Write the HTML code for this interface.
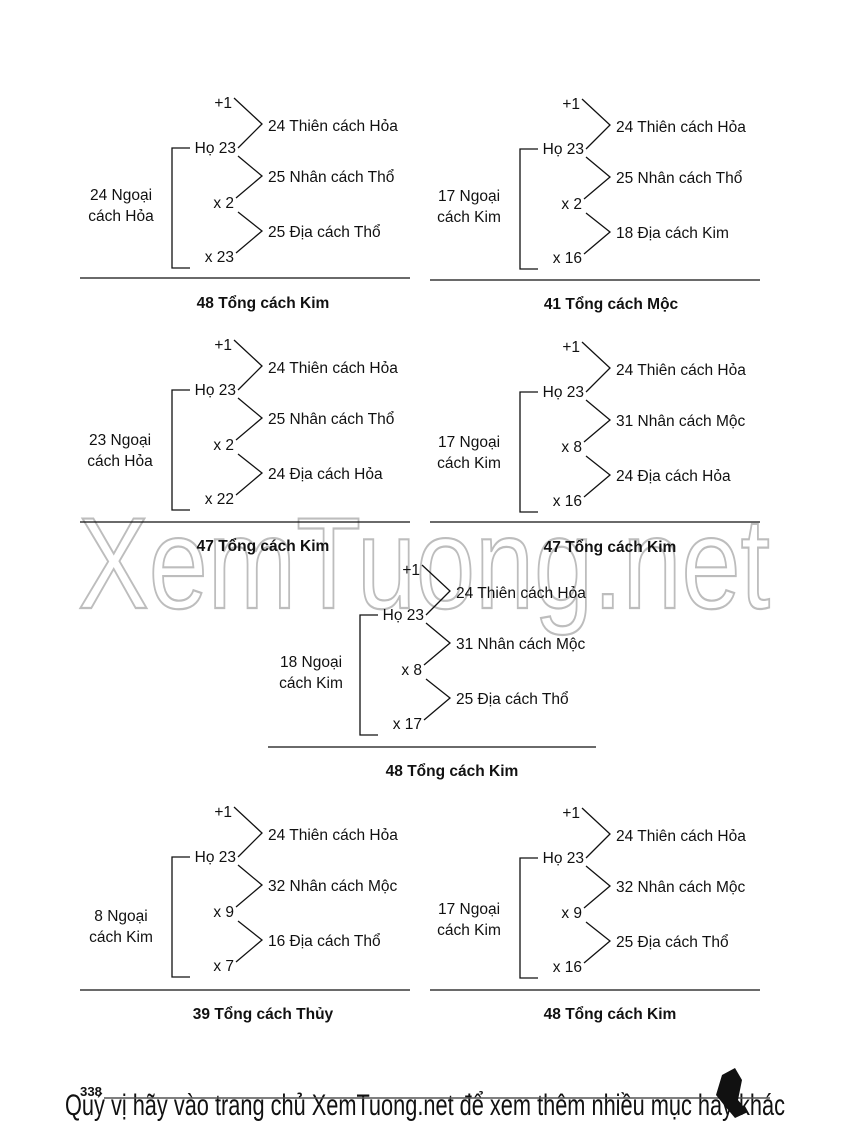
<!DOCTYPE html>
<html><head><meta charset="utf-8"><style>
html,body{margin:0;padding:0;background:#fff;}
svg{display:block;}
text{font-family:"Liberation Sans",Arial,sans-serif;fill:#111;}
</style></head><body>
<svg width="850" height="1127" viewBox="0 0 850 1127" xmlns="http://www.w3.org/2000/svg">
<defs>
<g id="frame" fill="none" stroke="#111" stroke-width="1.3">
<polyline points="234,98 262,124 238,148"/>
<polyline points="238,156 262,176 236,198"/>
<polyline points="238,212 262,231 236,253"/>
<polyline points="190,148 172,148 172,268 190,268"/>
</g>
</defs>
<text x="424" y="608" font-size="130" textLength="692" lengthAdjust="spacingAndGlyphs" text-anchor="middle" style="fill:#fff;stroke:#bdbdbd;stroke-width:2.2;font-family:'Liberation Sans Narrow','Liberation Sans',sans-serif">XemTuong.net</text>

<g transform="translate(0,0)">
<use href="#frame"/>
<g font-size="15.5">
<text x="232" y="108" text-anchor="end">+1</text>
<text x="236" y="153" text-anchor="end">Họ 23</text>
<text x="234" y="208" text-anchor="end">x 2</text>
<text x="234" y="262" text-anchor="end">x 23</text>
<text x="268" y="131">24 Thiên cách Hỏa</text>
<text x="268" y="182">25 Nhân cách Thổ</text>
<text x="268" y="237">25 Địa cách Thổ</text>
<text x="121" y="200" text-anchor="middle">24 Ngoại</text>
<text x="121" y="221" text-anchor="middle">cách Hỏa</text>
</g>
<line x1="80" y1="278" x2="410" y2="278" stroke="#111" stroke-width="1.3"/>
<text x="263" y="308" text-anchor="middle" font-size="15.5" font-weight="bold">48 Tổng cách Kim</text>
</g>

<g transform="translate(348,1)">
<use href="#frame"/>
<g font-size="15.5">
<text x="232" y="108" text-anchor="end">+1</text>
<text x="236" y="153" text-anchor="end">Họ 23</text>
<text x="234" y="208" text-anchor="end">x 2</text>
<text x="234" y="262" text-anchor="end">x 16</text>
<text x="268" y="131">24 Thiên cách Hỏa</text>
<text x="268" y="182">25 Nhân cách Thổ</text>
<text x="268" y="237">18 Địa cách Kim</text>
<text x="121" y="200" text-anchor="middle">17 Ngoại</text>
<text x="121" y="221" text-anchor="middle">cách Kim</text>
</g>
<line x1="82" y1="279" x2="412" y2="279" stroke="#111" stroke-width="1.3"/>
<text x="263" y="308" text-anchor="middle" font-size="15.5" font-weight="bold">41 Tổng cách Mộc</text>
</g>

<g transform="translate(0,242)">
<use href="#frame"/>
<g font-size="15.5">
<text x="232" y="108" text-anchor="end">+1</text>
<text x="236" y="153" text-anchor="end">Họ 23</text>
<text x="234" y="208" text-anchor="end">x 2</text>
<text x="234" y="262" text-anchor="end">x 22</text>
<text x="268" y="131">24 Thiên cách Hỏa</text>
<text x="268" y="182">25 Nhân cách Thổ</text>
<text x="268" y="237">24 Địa cách Hỏa</text>
<text x="120" y="203" text-anchor="middle">23 Ngoại</text>
<text x="120" y="224" text-anchor="middle">cách Hỏa</text>
</g>
<line x1="80" y1="280" x2="410" y2="280" stroke="#111" stroke-width="1.3"/>
<text x="263" y="309" text-anchor="middle" font-size="15.5" font-weight="bold">47 Tổng cách Kim</text>
</g>

<g transform="translate(348,244)">
<use href="#frame"/>
<g font-size="15.5">
<text x="232" y="108" text-anchor="end">+1</text>
<text x="236" y="153" text-anchor="end">Họ 23</text>
<text x="234" y="208" text-anchor="end">x 8</text>
<text x="234" y="262" text-anchor="end">x 16</text>
<text x="268" y="131">24 Thiên cách Hỏa</text>
<text x="268" y="182">31 Nhân cách Mộc</text>
<text x="268" y="237">24 Địa cách Hỏa</text>
<text x="121" y="203" text-anchor="middle">17 Ngoại</text>
<text x="121" y="224" text-anchor="middle">cách Kim</text>
</g>
<line x1="82" y1="278" x2="412" y2="278" stroke="#111" stroke-width="1.3"/>
<text x="262" y="308" text-anchor="middle" font-size="15.5" font-weight="bold">47 Tổng cách Kim</text>
</g>

<g transform="translate(188,467)">
<use href="#frame"/>
<g font-size="15.5">
<text x="232" y="108" text-anchor="end">+1</text>
<text x="236" y="153" text-anchor="end">Họ 23</text>
<text x="234" y="208" text-anchor="end">x 8</text>
<text x="234" y="262" text-anchor="end">x 17</text>
<text x="268" y="131">24 Thiên cách Hỏa</text>
<text x="268" y="182">31 Nhân cách Mộc</text>
<text x="268" y="237">25 Địa cách Thổ</text>
<text x="123" y="200" text-anchor="middle">18 Ngoại</text>
<text x="123" y="221" text-anchor="middle">cách Kim</text>
</g>
<line x1="80" y1="280" x2="408" y2="280" stroke="#111" stroke-width="1.3"/>
<text x="264" y="309" text-anchor="middle" font-size="15.5" font-weight="bold">48 Tổng cách Kim</text>
</g>

<g transform="translate(0,709)">
<use href="#frame"/>
<g font-size="15.5">
<text x="232" y="108" text-anchor="end">+1</text>
<text x="236" y="153" text-anchor="end">Họ 23</text>
<text x="234" y="208" text-anchor="end">x 9</text>
<text x="234" y="262" text-anchor="end">x 7</text>
<text x="268" y="131">24 Thiên cách Hỏa</text>
<text x="268" y="182">32 Nhân cách Mộc</text>
<text x="268" y="237">16 Địa cách Thổ</text>
<text x="121" y="212" text-anchor="middle">8 Ngoại</text>
<text x="121" y="233" text-anchor="middle">cách Kim</text>
</g>
<line x1="80" y1="281" x2="410" y2="281" stroke="#111" stroke-width="1.3"/>
<text x="263" y="310" text-anchor="middle" font-size="15.5" font-weight="bold">39 Tổng cách Thủy</text>
</g>

<g transform="translate(348,710)">
<use href="#frame"/>
<g font-size="15.5">
<text x="232" y="108" text-anchor="end">+1</text>
<text x="236" y="153" text-anchor="end">Họ 23</text>
<text x="234" y="208" text-anchor="end">x 9</text>
<text x="234" y="262" text-anchor="end">x 16</text>
<text x="268" y="131">24 Thiên cách Hỏa</text>
<text x="268" y="182">32 Nhân cách Mộc</text>
<text x="268" y="237">25 Địa cách Thổ</text>
<text x="121" y="204" text-anchor="middle">17 Ngoại</text>
<text x="121" y="225" text-anchor="middle">cách Kim</text>
</g>
<line x1="82" y1="280" x2="412" y2="280" stroke="#111" stroke-width="1.3"/>
<text x="262" y="309" text-anchor="middle" font-size="15.5" font-weight="bold">48 Tổng cách Kim</text>
</g>

<text x="80" y="1096" font-size="13" font-weight="bold" textLength="22" lengthAdjust="spacingAndGlyphs">338</text>
<text x="65" y="1115" font-size="30" textLength="720" lengthAdjust="spacingAndGlyphs" style="font-family:'Liberation Sans Narrow','Liberation Sans',sans-serif">Quý vị hãy vào trang chủ XemTuong.net để xem thêm nhiều mục hay khác</text>
<line x1="104" y1="1098" x2="770" y2="1098" stroke="#555" stroke-width="1.5"/>
<path d="M722,1075 L735,1068 L742,1080 L738,1100 L748,1112 L735,1118 L724,1105 L716,1095 Z" fill="#111"/>
</svg>
</body></html>
